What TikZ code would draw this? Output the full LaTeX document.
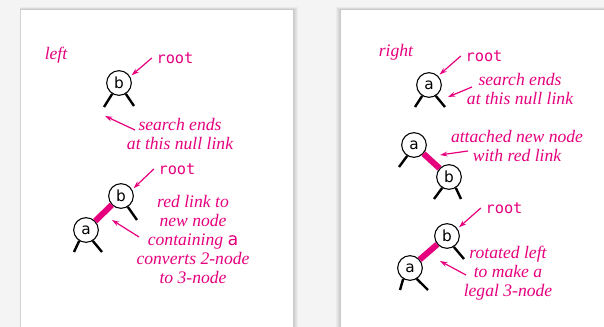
\documentclass[tikz,border=0pt]{standalone}
\usepackage{fontspec}
\setmainfont{Liberation Serif}
\newfontfamily\keyfont{DejaVu Sans}
\newfontfamily\codefont{DejaVu Sans Mono}
\usetikzlibrary{arrows.meta}
\definecolor{rbpink}{HTML}{E6007E}
\definecolor{pagebg}{HTML}{F4F4F4}
\tikzset{
  key/.style={circle, draw, line width=0.8pt, fill=white, inner sep=0pt, minimum size=18.5pt, font=\fontsize{11.5}{12}\keyfont},
  nulllink/.style={line width=1.8pt},
  redlink/.style={rbpink, line width=4.5pt},
  note/.style={rbpink, align=center, font=\fontsize{13.2}{14.25}\selectfont\itshape},
  rootlbl/.style={rbpink, font=\fontsize{11.5}{12}\codefont},
  ptr/.style={rbpink, line width=0.9pt, -{Stealth[length=5.5pt,width=3.6pt]}},
}

\begin{document}
\begin{tikzpicture}[x=0.75pt,y=-0.75pt]
    \useasboundingbox (0,0) rectangle (604,327);
    \fill [pagebg] (0,0) rectangle (604,327);

    % the two sheets
    \foreach \d in {1,...,5}
        \fill [black, opacity=0.035] (21-\d*0.3,10-\d*0.5) rectangle (293+\d,330);
    \fill [white] (21,10) rectangle (293,330);
    \foreach \d in {1,...,5}
        \fill [black, opacity=0.035] (341-\d,10-\d*0.5) rectangle (610,330);
    \fill [white] (341,10) rectangle (610,330);

    %%%%%%%%%%%%%%%%%%%% left
    \node [note] (lft) at (56,55) {left};

    \node [key] (b1) at (119,83) {b};
    \coordinate (b1l) at (104,107);
    \coordinate (b1r) at (134,106);
    \draw [nulllink] (b1.238) -- (b1l);
    \draw [nulllink] (b1.302) -- (b1r);

    \node [rootlbl] (r1) at (175,58) {root};
    \draw [ptr, shorten >=1.5pt] (r1.west) -- (b1.30);

    \node [note] (t1) at (180,134) {search ends\\at this null link};
    \coordinate (s1) at (135,130);
    \coordinate (h1) at (105,116);
    \draw [ptr] (s1) -- (h1);

    \node [key] (b2) at (121,196) {b};
    \node [key] (a2) at (86,230) {a};
    \draw [redlink] (a2) -- (b2);
    \coordinate (b2r) at (137,220);
    \coordinate (a2l) at (74,252);
    \coordinate (a2r) at (102,252);
    \draw [nulllink] (b2.302) -- (b2r);
    \foreach \ang/\y in {238/a2l, 302/a2r}
        \draw [nulllink] (a2.\ang) -- (\y);

    \node [rootlbl] (r2) at (177,169) {root};
    \draw [ptr, shorten >=1.5pt] (r2.west) -- (b2.30);

    \node [note] (t2) at (193,239) {red link to\\new node\\containing {\upshape\codefont a}\\converts 2-node\\to 3-node};
    \coordinate (s2) at (139,237);
    \coordinate (h2) at (112,220);
    \draw [ptr] (s2) -- (h2);

    %%%%%%%%%%%%%%%%%%%% right
    \node [note] (rgt) at (396,52) {right};

    \node [key] (a3) at (429,85) {a};
    \coordinate (a3l) at (415,107);
    \coordinate (a3r) at (445,107);
    \draw [nulllink] (a3.238) -- (a3l);
    \draw [nulllink] (a3.302) -- (a3r);

    \node [rootlbl] (r3) at (484,56) {root};
    \draw [ptr, shorten >=1.5pt] (r3.west) -- (a3.45);

    \node [note] (t3) at (520,89) {search ends\\at this null link};
    \coordinate (s3) at (472,87);
    \coordinate (h3) at (448,97);
    \draw [ptr] (s3) -- (h3);

    \node [key] (a4) at (414,145) {a};
    \node [key] (b4) at (449,177) {b};
    \draw [redlink] (a4) -- (b4);
    \coordinate (a4l) at (399,167);
    \coordinate (b4l) at (434,199);
    \coordinate (b4r) at (461,199);
    \draw [nulllink] (a4.238) -- (a4l);
    \foreach \ang/\y in {238/b4l, 302/b4r}
        \draw [nulllink] (b4.\ang) -- (\y);

    \node [note] (t4) at (517,146) {attached new node\\with red link};
    \coordinate (s4) at (468,151);
    \coordinate (h4) at (440,155);
    \draw [ptr] (s4) -- (h4);

    \node [key] (b5) at (447,236) {b};
    \node [key] (a5) at (410,268) {a};
    \draw [redlink] (a5) -- (b5);
    \coordinate (b5r) at (464,259);
    \coordinate (a5l) at (400,290);
    \coordinate (a5r) at (428,290);
    \draw [nulllink] (b5.302) -- (b5r);
    \foreach \ang/\y in {238/a5l, 302/a5r}
        \draw [nulllink] (a5.\ang) -- (\y);

    \node [rootlbl] (r5) at (504,208) {root};
    \draw [ptr, shorten >=1.5pt] (r5.west) -- (b5.35);

    \node [note] (t5) at (508,273) {rotated left\\to make a\\legal 3-node};
    \coordinate (s5) at (466,275);
    \coordinate (h5) at (440,261);
    \draw [ptr] (s5) -- (h5);
\end{tikzpicture}
\end{document}
